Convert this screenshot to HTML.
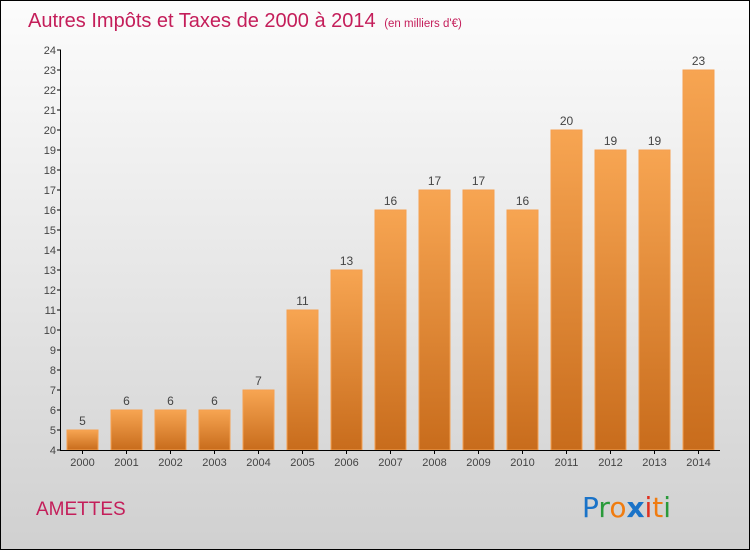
<!DOCTYPE html>
<html><head><meta charset="utf-8"><style>
html,body{margin:0;padding:0}
body{width:750px;height:550px;overflow:hidden;font-family:"Liberation Sans",sans-serif}
#wrap{position:absolute;left:0;top:0;width:748px;height:548px;border:1px solid #000;background:linear-gradient(#fcfcfc,#ebebeb 40%,#d0d0d0)}
</style></head><body>
<div id="wrap">
<svg width="750" height="550" style="position:absolute;left:-1px;top:-1px" id="svg">
<defs><linearGradient id="bg" x1="0" y1="0" x2="0" y2="1"><stop offset="0" stop-color="#f7a552"/><stop offset="1" stop-color="#c86c1c"/></linearGradient></defs>
<text x="28" y="27" font-size="20" fill="#c41e5a">Autres Impôts et Taxes de 2000 à 2014 <tspan font-size="11.5" dx="3">(en milliers d'€)</tspan></text>
<text x="36" y="515" font-size="19" fill="#c41e5a">AMETTES</text>
<text x="582" y="517" font-size="28" font-family="'DejaVu Sans',sans-serif"><tspan fill="#1a73c8">P</tspan><tspan fill="#2a9a3a">r</tspan><tspan fill="#f07c10">o</tspan><tspan fill="#1a73c8" font-weight="bold">x</tspan><tspan fill="#e03020">i</tspan><tspan fill="#f07c10">t</tspan><tspan fill="#2a9a3a">i</tspan></text>
<g id="g"></g>
</svg>
</div>
<script>
const categories=["2000","2001","2002","2003","2004","2005","2006","2007","2008","2009","2010","2011","2012","2013","2014"];
const values=[5,6,6,6,7,11,13,16,17,17,16,20,19,19,23];
const yTicks=[4,5,6,7,8,9,10,11,12,13,14,15,16,17,18,19,20,21,22,23,24];
const NS="http://www.w3.org/2000/svg";
const g=document.getElementById('g');
const y=v=>450-(v-4)*20;
const x=i=>82.5+i*44;
function mk(t,a){const e=document.createElementNS(NS,t);for(const k in a)e.setAttribute(k,a[k]);g.appendChild(e);return e;}
yTicks.forEach(t=>{
 const l=mk('line',{x1:57,x2:61,y1:y(t),y2:y(t),stroke:'#000'});
 
 
 const tx=mk('text',{x:56,y:y(t)+4,'font-size':11,fill:'#444','text-anchor':'end'});
 tx.textContent=t;
 
 
});
categories.forEach((c,i)=>{
 const v=values[i];
 const r=mk('rect',{x:x(i)-15.5,y:y(v),width:31,height:450-y(v),fill:'url(#bg)',stroke:'#f5a050','stroke-width':1});
 
 
 const vl=mk('text',{x:x(i),y:y(v)-5,'font-size':12,fill:'#444','text-anchor':'middle'});
 vl.textContent=v;
 
 
 const tk=mk('line',{x1:x(i),x2:x(i),y1:450,y2:454,stroke:'#000'});
 
 
 const xl=mk('text',{x:x(i),y:466,'font-size':11,fill:'#444','text-anchor':'middle'});
 xl.textContent=c;
 
 
});
const ya=mk('line',{x1:60.5,x2:60.5,y1:50,y2:451,stroke:'#000'});


const xa=mk('line',{x1:60,x2:720,y1:450.5,y2:450.5,stroke:'#000'});


</script>
</body></html>
